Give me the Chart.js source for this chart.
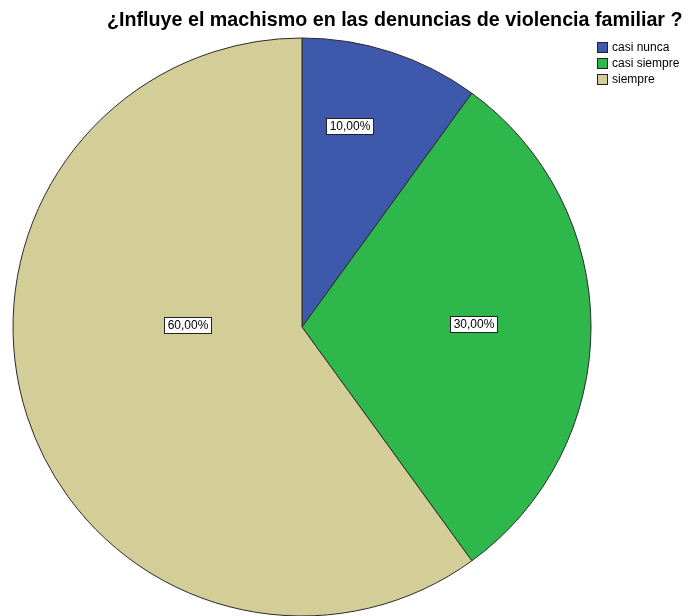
<!DOCTYPE html>
<html>
<head>
<meta charset="utf-8">
<script src="https://cdn.jsdelivr.net/npm/chart.js@4/dist/chart.umd.min.js"></script>
<style>
html,body{margin:0;padding:0;background:#fff;}
#wrap{width:693px;height:616px;position:relative;}
</style>
</head>
<body>
<div id="wrap"><canvas id="c" width="693" height="616"></canvas></div>
<script>
const titleText = "¿Influye el machismo en las denuncias de violencia familiar ?";
const categories = ["casi nunca", "casi siempre", "siempre"];
const percentages = [10, 30, 60];
const percentLabels = ["10,00%", "30,00%", "60,00%"];
const sliceColors = ["#3e58ac", "#2eb84b", "#d3ce98"];
// label placement inside each slice: [fraction of slice angle, fraction of radius]
const labelPlacement = [[0.37, 0.716], [0.49, 0.595], [0.587, 0.396]];

const FONT = '"Liberation Sans", Arial, sans-serif';

const overlay = {
  id: 'overlay',
  afterDraw(chart) {
    const ctx = chart.ctx;
    ctx.save();
    // title
    ctx.fillStyle = '#000';
    ctx.textBaseline = 'middle';
    ctx.textAlign = 'left';
    let fs = 16;
    ctx.font = 'bold ' + fs + 'px ' + FONT;
    const target = 576;
    fs = fs * target / ctx.measureText(titleText).width;
    ctx.font = 'bold ' + fs.toFixed(2) + 'px ' + FONT;
    ctx.fillText(titleText, 107, 21);

    // legend
    ctx.font = '12px ' + FONT;
    categories.forEach((cat, i) => {
      const y = 42 + i * 16;
      ctx.fillStyle = sliceColors[i];
      ctx.fillRect(597, y, 11, 11);
      ctx.strokeStyle = '#222';
      ctx.lineWidth = 1;
      ctx.strokeRect(597.5, y + 0.5, 10, 10);
      ctx.fillStyle = '#000';
      ctx.textAlign = 'left';
      ctx.fillText(cat, 612, y + 6);
    });

    // slice labels
    const meta = chart.getDatasetMeta(0);
    ctx.font = '12px ' + FONT;
    meta.data.forEach((arc, i) => {
      const p = arc.getProps(['x', 'y', 'startAngle', 'endAngle', 'outerRadius'], true);
      const [af, rf] = labelPlacement[i];
      const a = p.startAngle + (p.endAngle - p.startAngle) * af;
      const r = p.outerRadius * rf;
      const cx = p.x + Math.cos(a) * r;
      const cy = p.y + Math.sin(a) * r;
      const txt = percentLabels[i];
      const w = Math.round(ctx.measureText(txt).width) + 6;
      const h = 16;
      const bx = Math.round(cx - w / 2) + 0.5;
      const by = Math.round(cy - h / 2) + 0.5;
      ctx.fillStyle = '#fff';
      ctx.fillRect(bx, by, w, h);
      ctx.strokeStyle = '#222';
      ctx.lineWidth = 1;
      ctx.strokeRect(bx, by, w, h);
      ctx.fillStyle = '#000';
      ctx.textAlign = 'center';
      ctx.fillText(txt, bx + w / 2, by + h / 2 + 0.5);
    });
    ctx.restore();
  }
};

new Chart(document.getElementById('c'), {
  type: 'pie',
  data: {
    labels: categories,
    datasets: [{
      data: percentages,
      backgroundColor: sliceColors,
      borderColor: '#2a2a2a',
      borderWidth: 1,
      borderAlign: 'center'
    }]
  },
  options: {
    responsive: false,
    animation: false,
    radius: 289,
    layout: { padding: { top: 38, bottom: 0, left: 0, right: 89 } },
    plugins: {
      legend: { display: false },
      title: { display: false },
      tooltip: { enabled: false }
    }
  },
  plugins: [overlay]
});
</script>
</body>
</html>
